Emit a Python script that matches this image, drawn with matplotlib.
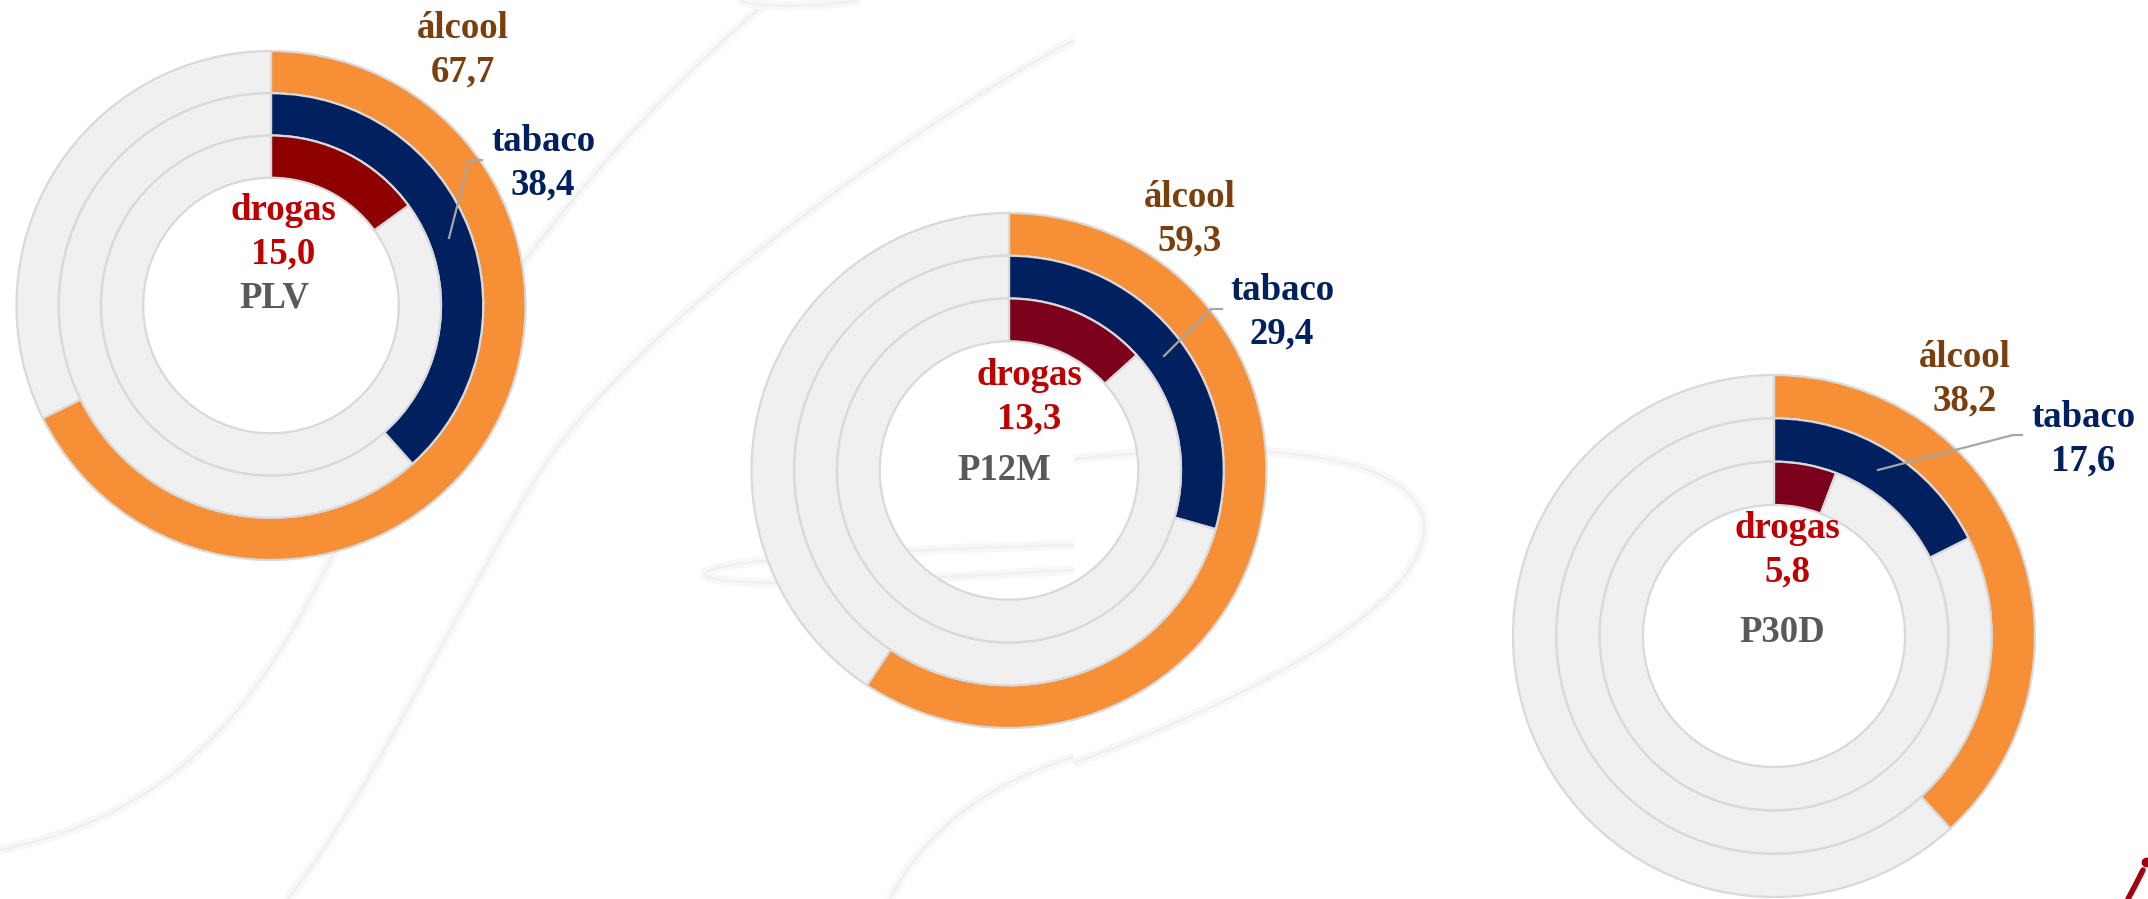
import matplotlib
matplotlib.use('Agg')
import matplotlib.pyplot as plt
from matplotlib.path import Path
from matplotlib.patches import PathPatch

# ---------------- data ----------------
periods = ['PLV', 'P12M', 'P30D']
substances = ['álcool', 'tabaco', 'drogas']
alcool = [67.7, 59.3, 38.2]
tabaco = [38.4, 29.4, 17.6]
drogas = [15.0, 13.3, 5.8]

# ---------------- layout (image pixel coords, y down) ----------------
W, H = 2148, 899
centers = [(271, 305.5), (1009, 470.5), (1774, 636)]
radii = [254.5, 257.5, 261]
ring_frac = [1.0, 0.834, 0.668]   # outer radius of each ring (alcool, tabaco, drogas)
ring_w = 0.166

col_alc = '#F68F35'
col_tab = '#00205F'
col_drg = ['#8E0000', '#7A001C', '#7A001C']
col_rest = '#F0F0F0'
col_edge = '#D9D9D9'

lab_col = ['#7B3F0E', '#00205F', '#C00000']
per_col = '#595959'

# label baselines (x, y) for name; value sits ~43 px lower
lab_pos = [
    [(463, 38), (543, 151), (283, 220)],
    [(1190, 207), (1282, 300), (1029, 385)],
    [(1965, 367), (2083, 427), (1787, 538)],
]
per_pos = [(274, 308), (1004, 480), (1782, 642)]
leaders = [
    [(449, 238), (469, 160), (482, 160)],
    [(1164, 356), (1211, 309), (1222, 309)],
    [(1878, 470), (2013, 435), (2022, 435)],
]

FONT = 'Liberation Serif'
FS = 26.5

fig = plt.figure(figsize=(W / 100, H / 100), dpi=100)
fig.patch.set_facecolor('white')
ax = fig.add_axes([0, 0, 1, 1])


def fy(y):
    return H - y


# faint decorative background swooshes
swooshes = [
    [(770, 0), (600, 140), (470, 330), (384, 460), (300, 600), (250, 800), (0, 850)],
    [(1074, 40), (870, 150), (640, 330), (548, 460), (470, 580), (380, 780), (288, 899)],
    [(1074, 545), (880, 550), (700, 560), (705, 575), (720, 590), (900, 580), (1074, 570)],
    [(1074, 459), (1250, 440), (1400, 450), (1423, 516), (1440, 600), (1250, 700), (1074, 763)],
    [(890, 899), (930, 820), (1000, 780), (1074, 757)],
    [(740, 0), (760, 10), (830, 5), (860, 0)],
]
for pts in swooshes:
    verts = [(x, fy(y)) for x, y in pts]
    codes = [Path.MOVETO] + [Path.CURVE4] * (len(verts) - 1)
    ax.add_patch(PathPatch(Path(verts, codes), facecolor='none',
                           edgecolor='#F8F8F8', lw=7, zorder=0))
    ax.add_patch(PathPatch(Path(verts, codes), facecolor='none',
                           edgecolor='#F0F0F0', lw=1.8, zorder=0))

# small logo fragment bottom-right
ax.plot([2128, 2136, 2143], [fy(899), fy(884), fy(870)], color='#A00010',
        lw=4, solid_capstyle='round', zorder=1)
ax.plot([2146], [fy(862)], marker='o', ms=6, color='#A00010', zorder=1)

series = [alcool, tabaco, drogas]
for i, per in enumerate(periods):
    cx, cy = centers[i]
    R = radii[i]
    ring_cols = [col_alc, col_tab, col_drg[i]]
    for k in range(3):
        v = series[k][i]
        ax.pie([v, 100 - v], radius=R * ring_frac[k], center=(cx, fy(cy)),
               startangle=90, counterclock=False,
               colors=[ring_cols[k], col_rest],
               wedgeprops=dict(width=R * ring_w, edgecolor=col_edge, linewidth=1.6))
    # leader line for tabaco
    lx = [p[0] for p in leaders[i]]
    ly = [fy(p[1]) for p in leaders[i]]
    ax.plot(lx, ly, color='#A6A6A6', lw=1.6, zorder=5)
    # labels
    for k in range(3):
        x, y = lab_pos[i][k]
        v = series[k][i]
        ax.text(x, fy(y), substances[k], ha='center', va='baseline',
                fontfamily=FONT, fontweight='bold', fontsize=FS, color=lab_col[k], zorder=6)
        ax.text(x, fy(y + 43.5), f'{v:.1f}'.replace('.', ','), ha='center', va='baseline',
                fontfamily=FONT, fontweight='bold', fontsize=FS, color=lab_col[k], zorder=6)
    px, py = per_pos[i]
    ax.text(px, fy(py), per, ha='center', va='baseline', fontfamily=FONT,
            fontweight='bold', fontsize=FS, color=per_col, zorder=6)

ax.set_xlim(0, W)
ax.set_ylim(0, H)
ax.set_aspect('auto')
ax.axis('off')

fig.savefig('out.png', dpi=100, facecolor='white')
